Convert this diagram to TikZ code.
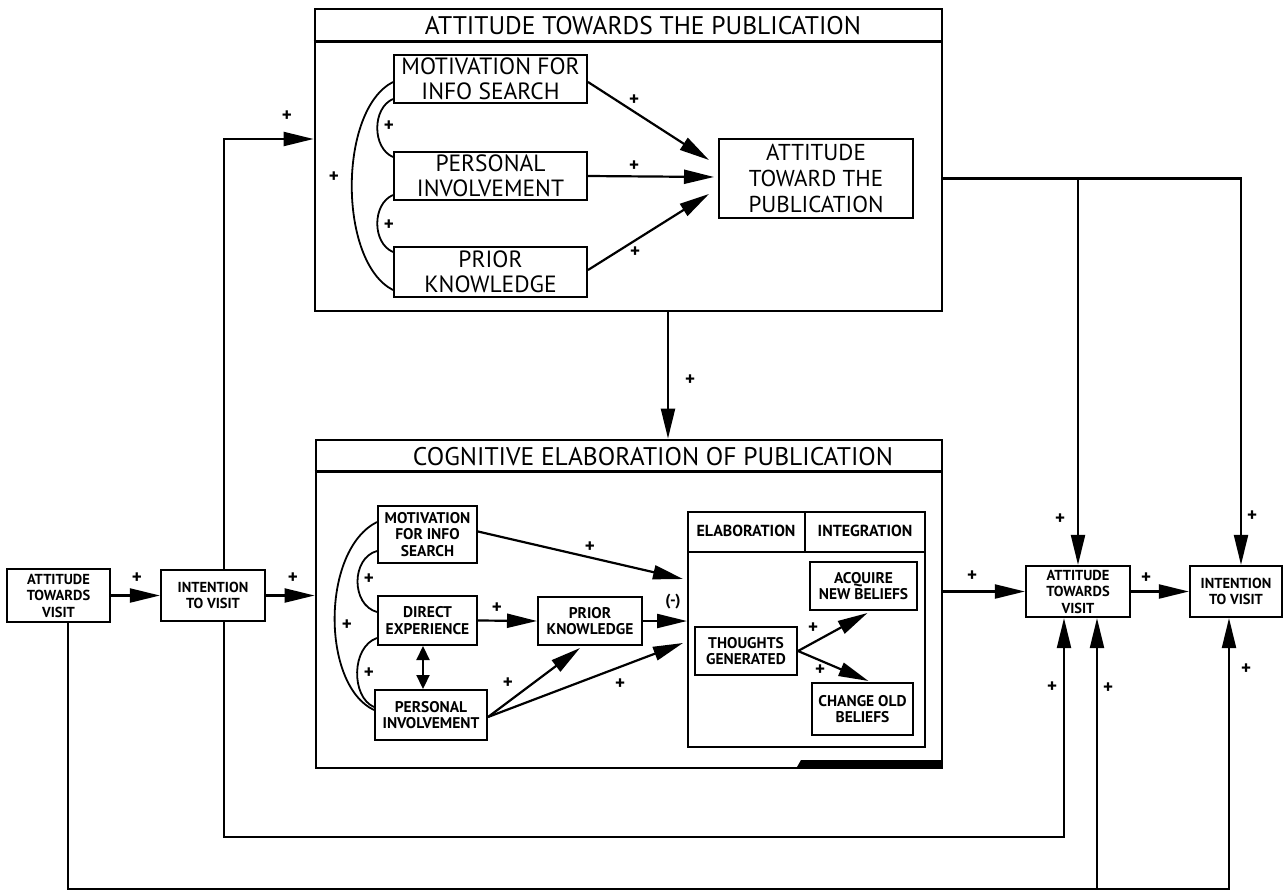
\documentclass[tikz,border=0pt]{standalone}
\usepackage{fontspec}
\setmainfont{PT Sans}
\usetikzlibrary{arrows.meta,calc}
\begin{document}
\begin{tikzpicture}[x=1pt,y=-1pt,
  big/.style={draw,line width=2.8pt,inner sep=0pt},
  ttl/.style={font=\fontsize{25.5}{27}\selectfont,inner sep=0pt},
  tb/.style={draw,line width=2pt,align=center,inner sep=0pt,font=\fontsize{23.5}{25}\selectfont},
  sb/.style={draw,line width=2pt,align=center,inner sep=0pt,font=\bfseries\fontsize{15.5}{16.5}\selectfont},
  vb/.style={draw,line width=2.2pt,align=center,inner sep=0pt,font=\bfseries\fontsize{14.5}{16.5}\selectfont},
  hdr/.style={inner sep=0pt,font=\bfseries\fontsize{16}{16}\selectfont},
  conn/.style={line width=2.2pt,-{Triangle[length=30pt,width=14pt]}},
  link/.style={line width=2.2pt},
  arcl/.style={line width=1.8pt},
  pl/.style={inner sep=0pt,font=\bfseries\fontsize{19}{19}\selectfont}
]
\useasboundingbox (0,0) rectangle (1283,892);

% helper coordinates
\coordinate (xa) at (668,0);
\coordinate (xb) at (423,0);
\coordinate (xd) at (805,0);
\coordinate (xL) at (224,0);
\coordinate (xl2) at (68,0);
\coordinate (xR) at (1241,0);
\coordinate (xb1) at (1064,0);
\coordinate (xb2) at (1097,0);
\coordinate (xb3) at (1229,0);
\coordinate (yA) at (0,139);
\coordinate (yB1) at (0,837);
\coordinate (yB2) at (0,889);

% ---------- top box ----------
\node[big,minimum width=627pt,minimum height=302pt] (topbox) at (628.5,160) {};
\draw[line width=2.5pt] ($(topbox.north west)+(0,34)$) -- ($(topbox.north east)+(0,34)$);
\node[ttl] (toptitle) at (643,26) {ATTITUDE TOWARDS THE PUBLICATION};

\node[tb,minimum width=193pt,minimum height=48pt] (tmot) at (490.5,79) {MOTIVATION FOR\\INFO SEARCH};
\node[tb,minimum width=193pt,minimum height=48pt] (tpers) at (490.5,176) {PERSONAL\\INVOLVEMENT};
\node[tb,minimum width=193pt,minimum height=50pt] (tprior) at (490.5,272) {PRIOR\\KNOWLEDGE};
\node[tb,minimum width=194pt,minimum height=79pt,font=\fontsize{23}{26}\selectfont] (tatt) at (816,178.5) {ATTITUDE\\TOWARD THE\\PUBLICATION};

\coordinate (ta1) at (709,160);
\coordinate (ta2) at (714,177);
\coordinate (ta3) at (709,194);
\draw[conn] ($(tmot.east)+(0,3)$) -- (ta1);
\draw[conn] (tpers.east) -- (ta2);
\draw[conn] ($(tprior.east)+(0,-2)$) -- (ta3);

\draw[arcl] ($(tmot.south west)+(0,-5)$) .. controls (372,108) and (372,148) .. ($(tpers.north west)+(0,6)$);
\draw[arcl] ($(tpers.south west)+(0,-6)$) .. controls (372,204) and (372,243) .. ($(tprior.north west)+(0,6)$);
\draw[arcl] ($(tmot.north west)+(0,28)$) .. controls (338,110) and (338,262) .. ($(tprior.south west)+(0,-8)$);

\node[pl] (p1) at (634,100) {+};
\node[pl] (p2) at (634,166) {+};
\node[pl] (p3) at (635,252) {+};
\node[pl] (p4) at (389,126) {+};
\node[pl] (p5) at (389,225) {+};
\node[pl] (p6) at (334,177) {+};
\node[pl] (p7) at (287,116) {+};

% ---------- cognitive box ----------
\node[big,minimum width=626pt,minimum height=328pt] (cogbox) at (629,604) {};
\draw[line width=2.5pt] ($(cogbox.north west)+(0,33)$) -- ($(cogbox.north east)+(0,33)$);
\node[ttl] (cogtitle) at (653,457) {COGNITIVE ELABORATION OF PUBLICATION};
\draw[conn] (topbox.south -| xa) -- (cogbox.north -| xa);
\node[pl] (p8) at (690,380) {+};

\node[sb,minimum width=99pt,minimum height=57pt] (cmot) at (427.5,534.5) {MOTIVATION\\FOR INFO\\SEARCH};
\node[sb,minimum width=99pt,minimum height=49pt] (cdir) at (427.5,620.5) {DIRECT\\EXPERIENCE};
\node[sb,minimum width=112pt,minimum height=50pt] (cpers) at (431,715) {PERSONAL\\INVOLVEMENT};
\node[sb,minimum width=104pt,minimum height=48pt] (cprior) at (590,621) {PRIOR\\KNOWLEDGE};

\node[draw,line width=2pt,minimum width=237pt,minimum height=235pt,inner sep=0pt] (elab) at (806.5,629.5) {};
\draw[line width=2pt] ($(elab.north west)+(0,41)$) -- ($(elab.north east)+(0,41)$);
\draw[line width=2pt] (elab.north -| xd) -- ($(elab.north -| xd)+(0,41)$);
\node[hdr] (elabl) at (746,531) {ELABORATION};
\node[hdr] (integ) at (865,531) {INTEGRATION};
\node[sb,minimum width=107pt,minimum height=48pt] (cacq) at (863.5,586) {ACQUIRE\\NEW BELIEFS};
\node[sb,minimum width=102pt,minimum height=48pt] (cthou) at (746,651) {THOUGHTS\\GENERATED};
\node[sb,minimum width=101pt,minimum height=52pt] (cchg) at (862.5,709) {CHANGE OLD\\BELIEFS};
\node[pl,font=\bfseries\fontsize{16}{16}\selectfont] (neg) at (673,602) {(-)};

\coordinate (ce1) at (683,579);
\coordinate (cp1) at (580,648);
\coordinate (ce3) at (683,643);
\draw[conn] ($(cmot.east)+(0,-3)$) -- (ce1);
\draw[conn] (cdir.east) -- (cprior.west);
\draw[conn] (cprior.east) -- (cprior.east -| elab.west);
\draw[conn] ($(cpers.east)+(0,2)$) -- (cp1);
\draw[conn] ($(cpers.east)+(0,2)$) -- (ce3);
\draw[line width=2.2pt,{Triangle[length=14pt,width=13pt]}-{Triangle[length=14pt,width=13pt]}] (cdir.south -| xb) -- (cpers.north -| xb);
\draw[conn] (cthou.east) -- ($(cacq.south)+(4,2)$);
\draw[conn] (cthou.east) -- ($(cchg.north)+(6,-1)$);

\draw[arcl] ($(cmot.north west)+(0,17)$) .. controls (321,550) and (321,685) .. ($(cpers.west)+(0,-5)$);
\draw[arcl] ($(cmot.south west)+(0,-13)$) .. controls (351,558) and (351,605) .. ($(cdir.north west)+(0,17)$);
\draw[arcl] ($(cdir.south west)+(0,-8)$) .. controls (351,647) and (351,697) .. ($(cpers.west)+(0,-8)$);

\node[pl] (p9) at (369,579) {+};
\node[pl] (p10) at (369,673) {+};
\node[pl] (p11) at (347,625) {+};
\node[pl] (p12) at (497,608) {+};
\node[pl] (p13) at (590,547) {+};
\node[pl] (p14) at (508,683) {+};
\node[pl] (p15) at (620,684) {+};
\node[pl] (p16) at (813,628) {+};
\node[pl] (p17) at (820,670) {+};

\fill (797,767) -- (801,760) -- (942,760) -- (942,767) -- cycle;

% ---------- visit boxes ----------
\node[vb,minimum width=103pt,minimum height=53pt] (lav) at (58.5,595.5) {ATTITUDE\\TOWARDS\\VISIT};
\node[vb,minimum width=104pt,minimum height=51pt] (lint) at (213,595.5) {INTENTION\\TO VISIT};
\node[vb,minimum width=104pt,minimum height=51pt] (rav) at (1078,591.5) {ATTITUDE\\TOWARDS\\VISIT};
\node[vb,minimum width=92pt,minimum height=51pt] (rint) at (1236,591.5) {INTENTION\\TO VISIT};

\draw[conn] (lav.east) -- (lint.west);
\draw[conn] (lint.east) -- (lint.east -| cogbox.west);
\draw[conn] (rav.west -| cogbox.east) -- (rav.west);
\draw[conn] (rav.east) -- (rint.west);

\draw[conn] (tatt.east -| topbox.east) -| (rint.north -| xR);
\draw[conn] (tatt.east -| rav.north) -- (rav.north);
\draw[conn] (lint.north -| xL) |- (topbox.west |- yA);
\draw[conn] (lint.south -| xL) |- (xb1 |- yB1) -- (rav.south -| xb1);
\draw[conn] (lav.south -| xl2) |- (xb3 |- yB2) -- (rint.south -| xb3);
\draw[conn] (xb2 |- yB2) -- (rav.south -| xb2);

\node[pl] (p18) at (137,578) {+};
\node[pl] (p19) at (293,578) {+};
\node[pl] (p20) at (972,576) {+};
\node[pl] (p21) at (1146,578) {+};
\node[pl] (p22) at (1060,519) {+};
\node[pl] (p23) at (1252,516) {+};
\node[pl] (p24) at (1052,687) {+};
\node[pl] (p25) at (1108,688) {+};
\node[pl] (p26) at (1246,669) {+};
\end{tikzpicture}
\end{document}
